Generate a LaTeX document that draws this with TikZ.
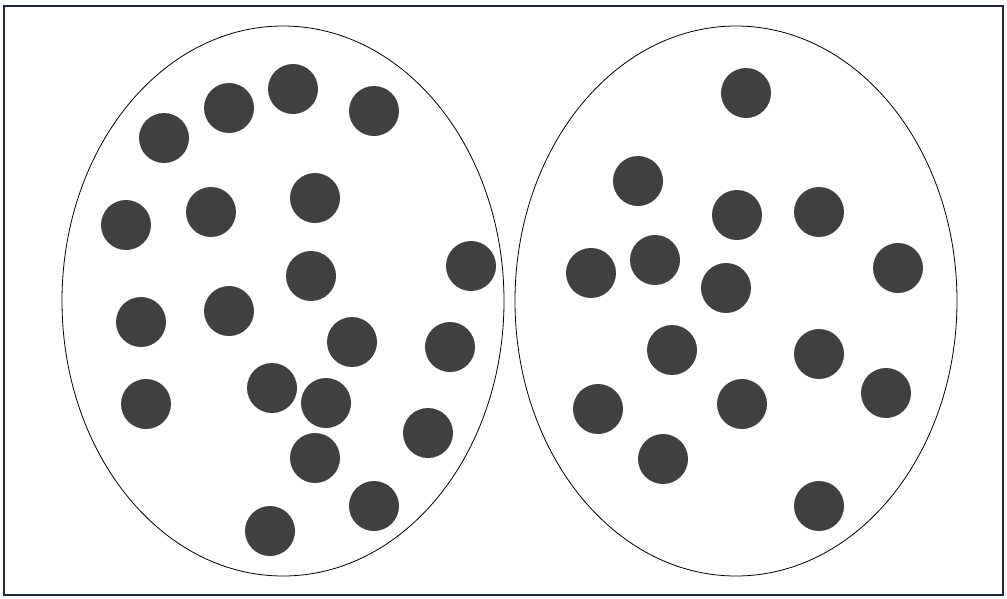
\documentclass[tikz,border=0pt]{standalone}
\definecolor{dotgray}{HTML}{404040}
\definecolor{framecol}{HTML}{1E2838}
\begin{document}
\begin{tikzpicture}[x=1pt,y=-1pt,
  dot/.style={circle,fill=dotgray,draw=none,minimum size=50pt,inner sep=0pt},
  setshape/.style={draw=black,line width=0.8pt,fill=none}]
\useasboundingbox (0,0) rectangle (1007,598);
\node[draw=framecol,line width=1.3pt,minimum width=999pt,minimum height=589pt,inner sep=0pt] (frame) at (503.5,300.5) {};
\draw[setshape] (283,301) ellipse [x radius=221, y radius=275];
\draw[setshape] (736,301) ellipse [x radius=221, y radius=275];
\coordinate (L) at (283,301);
\coordinate (R) at (736,301);
% left set
\foreach \n/\x/\y in {l1/164/138, l2/229/108, l3/293/89, l4/374/111, l5/126/225, l6/211/212, l7/315/198, l8/471/266, l9/311/276, l10/141/322, l11/229/311, l12/352/342, l13/450/347, l14/146/404, l15/272/388, l16/326/403, l17/428/433, l18/315/458, l19/374/506, l20/270/531}
  \node[dot] (\n) at (\x,\y) {};
% right set
\foreach \n/\x/\y in {r1/746/93, r2/638/181, r3/737/215, r4/819/212, r5/591/273, r6/655/260, r7/726/288, r8/898/268, r9/672/350, r10/819/354, r11/598/409, r12/742/404, r13/886/393, r14/663/459, r15/819/506}
  \node[dot] (\n) at (\x,\y) {};
\end{tikzpicture}
\end{document}
